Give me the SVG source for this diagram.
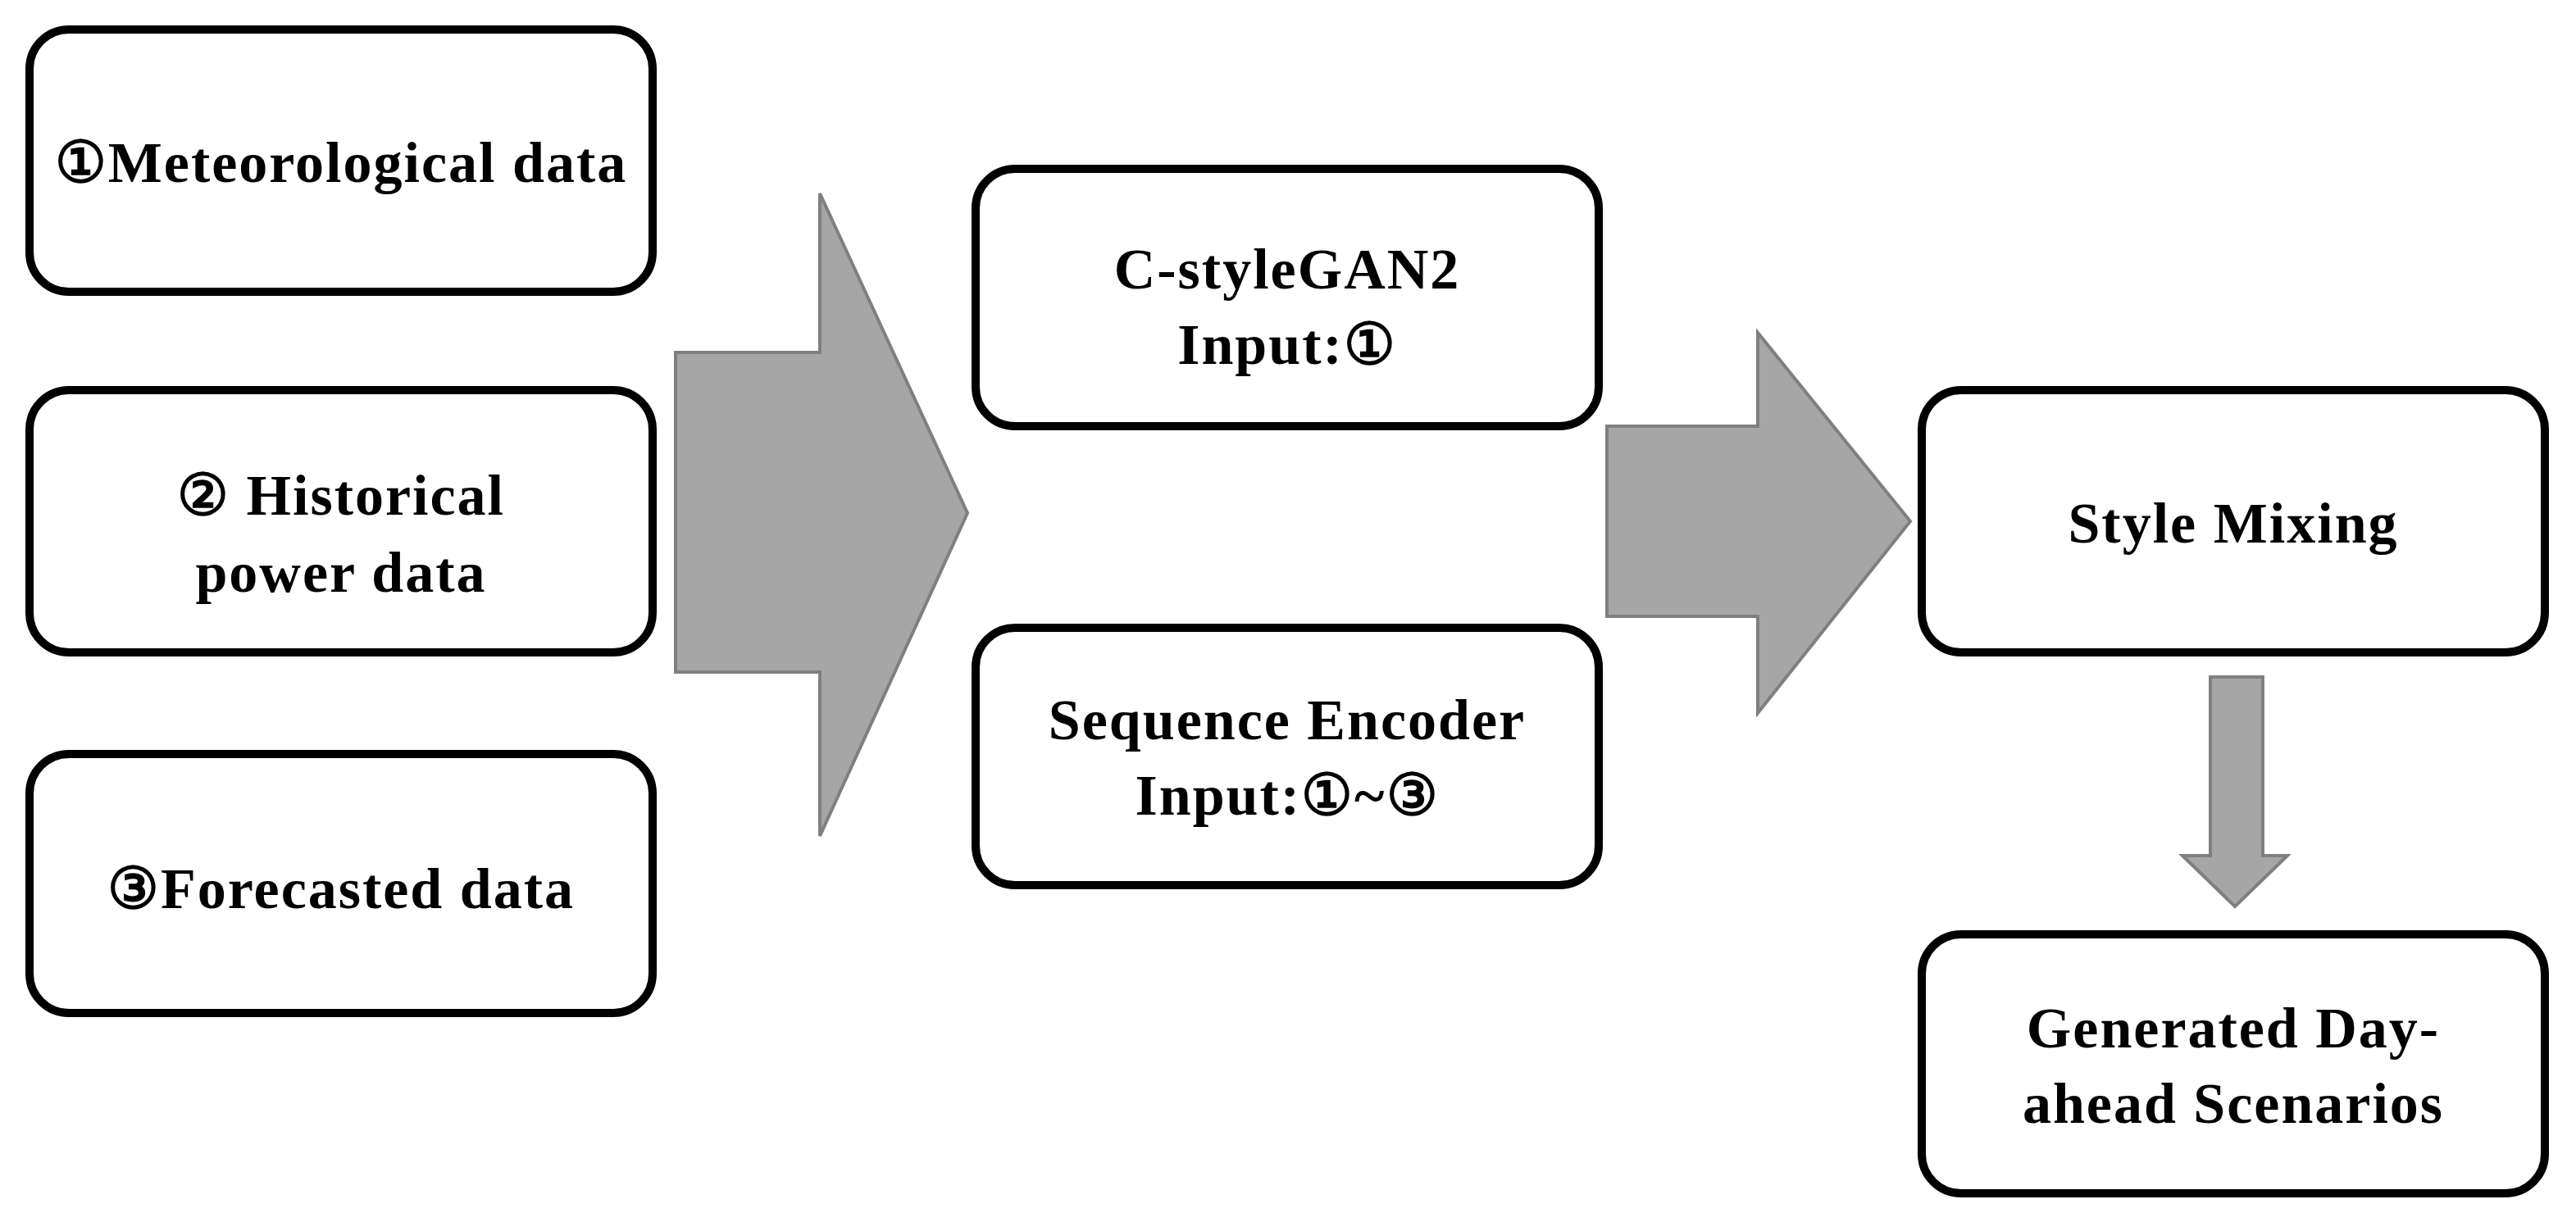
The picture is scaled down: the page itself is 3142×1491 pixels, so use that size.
<svg xmlns="http://www.w3.org/2000/svg" width="3142" height="1491" viewBox="0 0 3142 1491">
<style>
.b{fill:#fff;stroke:#000;stroke-width:10}
.a{fill:#a6a6a6;stroke:#7f7f7f;stroke-width:4}
text{font-family:"Liberation Serif","DejaVu Serif",serif;font-weight:bold;font-size:70px;letter-spacing:2px;text-anchor:middle;fill:#000}
</style>
<rect width="3142" height="1491" fill="#fff"/>
<g id="connectors">
<polygon class="a" points="824,430 1000,430 1000,236 1180,626 1000,1020 1000,820 824,820"/>
<polygon class="a" points="1960,520 2144,520 2144,406 2330,636 2144,870 2144,752 1960,752"/>
<polygon class="a" points="2696,826 2760,826 2760,1044 2790,1044 2726,1106 2662,1044 2696,1044"/>
</g>
<g id="n1"><rect class="b" x="36" y="36" width="760" height="320" rx="48"/><text x="416" y="222">①Meteorological data</text></g>
<g id="n2"><rect class="b" x="36" y="476" width="760" height="320" rx="48"/><text x="416" y="628">② Historical</text><text x="416" y="722">power data</text></g>
<g id="n3"><rect class="b" x="36" y="920" width="760" height="316" rx="48"/><text x="416" y="1108">③Forecasted data</text></g>
<g id="n4"><rect class="b" x="1190" y="206" width="760" height="314" rx="48"/><text x="1570" y="352">C-styleGAN2</text><text x="1570" y="444">Input:①</text></g>
<g id="n5"><rect class="b" x="1190" y="766" width="760" height="314" rx="48"/><text x="1570" y="902">Sequence Encoder</text><text x="1570" y="994">Input:①~③</text></g>
<g id="n6"><rect class="b" x="2344" y="476" width="760" height="320" rx="48"/><text x="2724" y="662">Style Mixing</text></g>
<g id="n7"><rect class="b" x="2344" y="1140" width="760" height="316" rx="48"/><text x="2724" y="1278">Generated Day-</text><text x="2724" y="1370">ahead Scenarios</text></g>
</svg>
